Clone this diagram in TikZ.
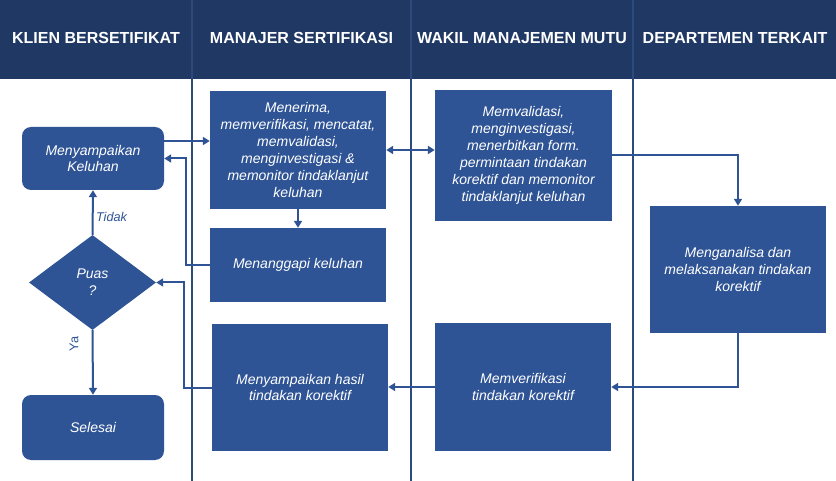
\documentclass[tikz,border=0pt]{standalone}
\usepackage{fontspec}
\setmainfont{Liberation Sans}
\usetikzlibrary{shapes.geometric,arrows.meta}
\definecolor{hdr}{HTML}{203864}
\definecolor{boxc}{HTML}{2F5496}
\definecolor{lanec}{HTML}{2C4A7C}
\tikzset{
  box/.style={fill=boxc, draw=none, text=white, font=\fontsize{14}{16.9}\selectfont\itshape, align=center, inner sep=0pt},
  rbox/.style={box, rounded corners=9pt},
  arr/.style={draw=boxc, line width=2pt, -{Triangle[length=7pt,width=8pt]}},
  barr/.style={draw=boxc, line width=2pt, {Triangle[length=7pt,width=8pt]}-{Triangle[length=7pt,width=8pt]}},
  hdrtext/.style={text=white, font=\fontsize{16}{18}\selectfont\bfseries},
  lane/.style={draw=lanec, line width=1.2pt},
  lbl/.style={text=boxc, font=\fontsize{12.7}{14}\selectfont}
}
\begin{document}
\begin{tikzpicture}[x=1pt,y=-1pt]
\useasboundingbox (0,0) rectangle (836,481);
\fill[white] (0,0) rectangle (836,481);
\fill[hdr] (0,0) rectangle (836,79);
% lane lines
\draw[lane] (192,0) -- (192,481);
\draw[lane] (411,0) -- (411,481);
\draw[lane] (633,0) -- (633,481);
% headers
\node[hdrtext] (h1) at (96,38) {KLIEN BERSETIFIKAT};
\node[hdrtext] (h2) at (301.5,38) {MANAJER SERTIFIKASI};
\node[hdrtext] (h3) at (522,38) {WAKIL MANAJEMEN MUTU};
\node[hdrtext] (h4) at (735,38) {DEPARTEMEN TERKAIT};
% nodes
\node[rbox, minimum width=142pt, minimum height=63pt] (kel) at (93,158.5) {Menyampaikan\\Keluhan};
\node[box, minimum width=176pt, minimum height=118pt] (men) at (298,150) {Menerima,\\memverifikasi, mencatat,\\memvalidasi,\\menginvestigasi \&\\memonitor tindaklanjut\\keluhan};
\node[box, minimum width=176pt, minimum height=74pt] (tang) at (298,265) {Menanggapi keluhan};
\node[box, minimum width=176pt, minimum height=127pt] (hasil) at (300,387.5) {Menyampaikan hasil\\tindakan korektif};
\node[box, minimum width=177pt, minimum height=131pt] (val) at (523.5,155.5) {Memvalidasi,\\menginvestigasi,\\menerbitkan form.\\permintaan tindakan\\korektif dan memonitor\\tindaklanjut keluhan};
\node[box, minimum width=176pt, minimum height=127pt] (anal) at (738,269.5) {Menganalisa dan\\melaksanakan tindakan\\korektif};
\node[box, minimum width=176pt, minimum height=128pt] (verif) at (523,387) {Memverifikasi\\tindakan korektif};
\node[diamond, fill=boxc, text=white, font=\fontsize{14}{16.9}\selectfont\itshape, align=center, inner sep=0pt, minimum width=127pt, minimum height=95pt] (puas) at (92.5,282.5) {Puas\\?};
\node[rbox, minimum width=142pt, minimum height=65pt] (sel) at (93,427.5) {Selesai};
% connectors
\draw[arr] (kel.east |- 0,141) -- (men.west |- 0,141);
\draw[arr] (tang.west) -- ++(-24,0) |- (kel.east);
\draw[arr] (men.south) -- (tang.north);
\draw[barr] (men.east) -- (men.east -| val.west);
\draw[arr] (val.east) -| (anal.north);
\draw[arr] (anal.south) |- (verif.east);
\draw[arr] (verif.west) -- (hasil.east |- verif.west);
\draw[arr] (hasil.west) -- ++(-28,0) |- (puas.east);
\draw[arr] (puas.north) -- node[lbl, right, font=\fontsize{12.7}{14}\selectfont\itshape, pos=0.4, xshift=-1pt] (tidak) {Tidak} (kel.south);
\draw[arr] (puas.south) -- (sel.north);
\node[lbl, rotate=90] (ya) at (74,344) {Ya};
\end{tikzpicture}
\end{document}
